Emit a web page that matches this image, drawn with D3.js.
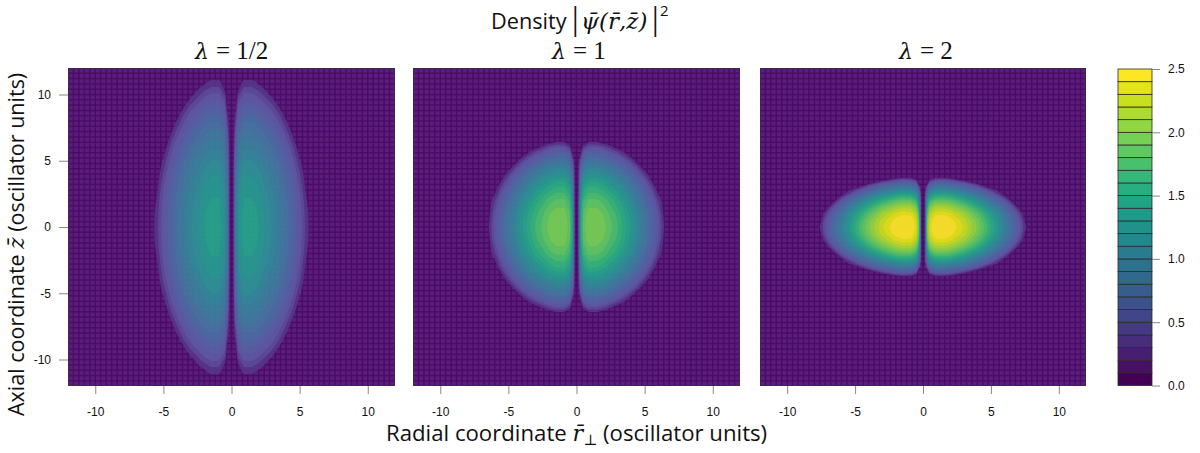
<!DOCTYPE html>
<html>
<head>
<meta charset="utf-8">
<script src="https://cdn.jsdelivr.net/npm/d3@7"></script>
<style>
  html, body { margin: 0; background: #fff; }
  svg { display: block; }
  .tick text { font-family: "Liberation Sans", sans-serif; font-size: 12px; fill: #111; }
  .tick line { stroke: #888; }
  .label { font-family: "Open Sans", sans-serif; fill: #111; }
  .math { font-family: "DejaVu Serif", serif; font-style: italic; fill: #111; }
  .upright { font-family: "Liberation Serif", serif; fill: #111; }
</style>
</head>
<body>
<svg width="1200" height="453"></svg>
<script>
// one quadrant of each panel, rows go up in z, columns out in r
const titles = ['= 1/2', '= 1', '= 2'];
const xTicks = [-10, -5, 0, 5, 10];
const yTicks = [-10, -5, 0, 5, 10];
const barTicks = [0, 0.5, 1, 1.5, 2, 2.5];

const radii1 = [0, 0.12, 0.3, 0.5, 0.9, 1.5, 2, 3, 3.5, 4, 4.5, 5, 5.5, 6, 6.5];
const heights1 = [0, 1, 2, 3, 4, 5, 6, 7, 8, 8.5, 9, 9.5, 10, 10.5, 11, 11.5, 12];
const density1 = [
    [0, 0, .87, 1.21, 1.36, 1.36, 1.30, 1.09, .95, .78, .59, .38, .15, 0, 0],
    [0, 0, .86, 1.20, 1.35, 1.35, 1.29, 1.08, .94, .77, .58, .37, .14, 0, 0],
    [0, 0, .83, 1.16, 1.31, 1.31, 1.26, 1.05, .90, .74, .55, .34, .11, 0, 0],
    [0, 0, .77, 1.11, 1.26, 1.26, 1.20, .99, .85, .69, .50, .29, .05, 0, 0],
    [0, 0, .70, 1.04, 1.19, 1.19, 1.13, .92, .78, .61, .43, .22, 0, 0, 0],
    [0, 0, .61, .95, 1.10, 1.10, 1.04, .83, .69, .52, .33, .12, 0, 0, 0],
    [0, 0, .49, .83, .98, .98, .92, .71, .57, .41, .22, .01, 0, 0, 0],
    [0, 0, .36, .70, .85, .85, .79, .58, .44, .27, .08, 0, 0, 0, 0],
    [0, 0, .20, .54, .69, .69, .63, .42, .28, .11, 0, 0, 0, 0, 0],
    [0, 0, .12, .46, .60, .61, .55, .34, .20, .03, 0, 0, 0, 0, 0],
    [0, 0, .03, .36, .51, .51, .46, .25, .10, 0, 0, 0, 0, 0, 0],
    [0, 0, 0, .27, .42, .42, .36, .15, .01, 0, 0, 0, 0, 0, 0],
    [0, 0, 0, .17, .32, .32, .26, .05, 0, 0, 0, 0, 0, 0, 0],
    [0, 0, 0, .06, .21, .21, .15, 0, 0, 0, 0, 0, 0, 0, 0],
    [0, 0, 0, 0, .13, .13, .05, 0, 0, 0, 0, 0, 0, 0, 0],
    [0, 0, 0, 0, 0, 0, 0, 0, 0, 0, 0, 0, 0, 0, 0],
    [0, 0, 0, 0, 0, 0, 0, 0, 0, 0, 0, 0, 0, 0, 0]
];

const radii2 = [0, 0.12, 0.3, 0.5, 0.9, 1.5, 2, 3, 3.5, 4, 4.5, 5, 5.5, 6, 6.5, 7];
const heights2 = [0, 1, 2, 3, 3.5, 4, 4.5, 5, 5.5, 6, 6.25, 6.5, 7];
const density2 = [
    [0, 0, 1.42, 1.76, 1.90, 1.90, 1.84, 1.62, 1.47, 1.29, 1.09, .87, .63, .36, .06, 0],
    [0, 0, 1.37, 1.71, 1.86, 1.86, 1.79, 1.57, 1.42, 1.25, 1.05, .83, .58, .31, .02, 0],
    [0, 0, 1.24, 1.58, 1.73, 1.72, 1.66, 1.44, 1.29, 1.12, .92, .70, .45, .18, 0, 0],
    [0, 0, 1.02, 1.36, 1.51, 1.51, 1.44, 1.22, 1.07, .90, .70, .48, .23, 0, 0, 0],
    [0, 0, .88, 1.22, 1.37, 1.36, 1.30, 1.08, .93, .75, .56, .33, .09, 0, 0, 0],
    [0, 0, .72, 1.05, 1.20, 1.20, 1.14, .91, .76, .59, .39, .17, 0, 0, 0, 0],
    [0, 0, .53, .87, 1.01, 1.01, .95, .73, .58, .40, .20, 0, 0, 0, 0, 0],
    [0, 0, .32, .66, .81, .80, .74, .52, .37, .20, 0, 0, 0, 0, 0, 0],
    [0, 0, .09, .43, .58, .57, .51, .29, .14, 0, 0, 0, 0, 0, 0, 0],
    [0, 0, 0, .18, .32, .32, .26, .04, 0, 0, 0, 0, 0, 0, 0, 0],
    [0, 0, 0, .04, .19, .19, .12, 0, 0, 0, 0, 0, 0, 0, 0, 0],
    [0, 0, 0, 0, .05, .05, 0, 0, 0, 0, 0, 0, 0, 0, 0, 0],
    [0, 0, 0, 0, 0, 0, 0, 0, 0, 0, 0, 0, 0, 0, 0, 0]
];

const radii3 = [0, 0.12, 0.3, 0.5, 0.9, 1.5, 2, 3, 4, 4.5, 5, 5.5, 6, 6.5, 7, 7.5, 8];
const heights3 = [0, 0.5, 1, 1.5, 2, 2.5, 3, 3.25, 3.5, 3.75, 4];
const density3 = [
    [0, 0, 1.84, 2.25, 2.44, 2.45, 2.40, 2.19, 1.89, 1.71, 1.50, 1.27, 1.02, .75, .45, .13, 0],
    [0, 0, 1.80, 2.21, 2.39, 2.41, 2.35, 2.15, 1.85, 1.66, 1.46, 1.23, .98, .70, .41, .09, 0],
    [0, 0, 1.67, 2.08, 2.27, 2.28, 2.22, 2.02, 1.72, 1.54, 1.33, 1.10, .85, .58, .28, 0, 0],
    [0, 0, 1.46, 1.87, 2.05, 2.06, 2.01, 1.81, 1.51, 1.32, 1.12, .89, .64, .36, .07, 0, 0],
    [0, 0, 1.16, 1.57, 1.75, 1.76, 1.71, 1.51, 1.21, 1.02, .82, .59, .34, .06, 0, 0, 0],
    [0, 0, .77, 1.18, 1.37, 1.38, 1.33, 1.12, .82, .64, .43, .20, 0, 0, 0, 0, 0],
    [0, 0, .30, .71, .90, .91, .86, .65, .35, .17, 0, 0, 0, 0, 0, 0, 0],
    [0, 0, .04, .45, .63, .64, .59, .39, .09, 0, 0, 0, 0, 0, 0, 0, 0],
    [0, 0, 0, .16, .34, .35, .30, .10, 0, 0, 0, 0, 0, 0, 0, 0, 0],
    [0, 0, 0, 0, .03, .04, 0, 0, 0, 0, 0, 0, 0, 0, 0, 0, 0],
    [0, 0, 0, 0, 0, 0, 0, 0, 0, 0, 0, 0, 0, 0, 0, 0, 0]
];

const panels = [
    {left: 68, right: 395, radii: radii1, heights: heights1, density: density1, title: titles[0], titleX: 195},
    {left: 413, right: 740, radii: radii2, heights: heights2, density: density2, title: titles[1], titleX: 552},
    {left: 760, right: 1086, radii: radii3, heights: heights3, density: density3, title: titles[2], titleX: 899}
];

let svg = d3.select('svg');
let top_ = 68, bottom = 386;
let levelCount = 25, levelStep = 0.1;
let levelColor = i => d3.interpolateViridis(i / (levelCount - 1));
// the image panels look a level brighter than the bar and washed out around the low levels
let fieldColor = i => {
    let lift = i == 1 ? 0.16 : i == 2 ? 0.24 : 0.28 * Math.max(0, 1 - (i - 3) / 12);
    return d3.interpolateRgb(levelColor(Math.min(i + 1, levelCount - 1)), '#a0a8f5')(lift);
};

let defs = svg.append('defs');
defs.append('filter').attr('id', 'soft').append('feGaussianBlur').attr('stdDeviation', 0.6);

let yScale = d3.scaleLinear().domain([-12, 12]).range([bottom, top_]);
let gridSteps = d3.range(0, 61).map(i => -12 + i * 0.4);

panels.forEach((p, n) => {
    let xScale = d3.scaleLinear().domain([-12, 12]).range([p.left, p.right]);

    // both axes are mirrored from the quadrant, the picture is symmetric
    let rs = [...p.radii.slice(1).map(d => -d).reverse(), ...p.radii];
    let zs = [...p.heights.slice(1).map(d => -d).reverse(), ...p.heights];
    let values = [];
    zs.forEach(z => {
        let row = p.density[p.heights.indexOf(Math.abs(z))];
        rs.forEach(r => values.push(row[p.radii.indexOf(Math.abs(r))]));
    });

    let bands = d3.contours()
        .size([rs.length, zs.length])
        .thresholds(d3.range(1, levelCount).map(i => i * levelStep))(values);

    // d3.contours works in grid cells, the grid is not even so go through piecewise scales
    let gridX = d3.scaleLinear().domain(rs.map((d, i) => i + 0.5)).range(rs.map(d => xScale(d)));
    let gridY = d3.scaleLinear().domain(zs.map((d, i) => i + 0.5)).range(zs.map(d => yScale(d)));
    let path = d3.geoPath(d3.geoTransform({
        point(x, y) { this.stream.point(gridX(x), gridY(y)); }
    }));

    defs.append('clipPath').attr('id', 'clip' + n)
        .append('rect')
        .attr('x', p.left).attr('y', top_)
        .attr('width', p.right - p.left).attr('height', bottom - top_);

    let plot = svg.append('g').attr('clip-path', `url(#clip${n})`);

    plot.append('rect')
        .attr('x', p.left).attr('y', top_)
        .attr('width', p.right - p.left).attr('height', bottom - top_)
        .attr('fill', '#5c1c7e');

    // the mesh of the fine image grid, it shows through the bands a little
    let mesh = plot.append('g').attr('stroke', '#470c60').attr('stroke-opacity', 0.85).attr('stroke-width', 1.5);
    mesh.selectAll('line.v')
        .data(gridSteps)
        .enter().append('line').attr('class', 'v')
        .attr('x1', d => xScale(d)).attr('x2', d => xScale(d))
        .attr('y1', top_).attr('y2', bottom);
    mesh.selectAll('line.h')
        .data(gridSteps)
        .enter().append('line').attr('class', 'h')
        .attr('y1', d => yScale(d)).attr('y2', d => yScale(d))
        .attr('x1', p.left).attr('x2', p.right);

    let field = plot.append('g').attr('filter', 'url(#soft)').attr('opacity', 0.94);
    field.selectAll('path.band')
        .data(bands)
        .enter().append('path')
        .attr('class', 'band')
        .attr('d', path)
        .attr('fill', (d, i) => fieldColor(i + 1));

    svg.append('rect')
        .attr('x', p.left + 0.5).attr('y', top_ + 0.5)
        .attr('width', p.right - p.left - 1).attr('height', bottom - top_ - 1)
        .attr('fill', 'none').attr('stroke', '#3a2a48');

    let xAxis = svg.append('g')
        .attr('transform', `translate(0,${bottom})`)
        .call(d3.axisBottom(xScale).tickValues(xTicks).tickSize(8).tickPadding(13).tickFormat(d => String(d)));
    xAxis.select('.domain').remove();

    if (n == 0) {
        let yAxis = svg.append('g')
            .attr('transform', `translate(${p.left},0)`)
            .call(d3.axisLeft(yScale).tickValues(yTicks).tickSize(9).tickPadding(8).tickFormat(d => String(d)));
        yAxis.select('.domain').remove();
    }

    let title = svg.append('text').attr('x', p.titleX).attr('y', 59);
    title.append('tspan').attr('class', 'math').attr('font-size', 22).text('λ');
    title.append('tspan').attr('class', 'upright').attr('font-size', 25).attr('dx', 7).text(p.title);
});

// colour bar
let barScale = d3.scaleLinear().domain([0, 2.5]).range([385.5, 69]);
let barLeft = 1118, barRight = 1152;
svg.append('g').selectAll('rect')
    .data(d3.range(levelCount))
    .enter().append('rect')
    .attr('x', barLeft).attr('width', barRight - barLeft)
    .attr('y', d => barScale((d + 1) * levelStep))
    .attr('height', d => barScale(d * levelStep) - barScale((d + 1) * levelStep))
    .attr('fill', d => levelColor(d))
    .attr('stroke', '#2a2a2a').attr('stroke-width', 0.8);

let barAxis = svg.append('g')
    .attr('transform', `translate(${barRight},0)`)
    .call(d3.axisRight(barScale).tickValues(barTicks).tickSize(8).tickPadding(8).tickFormat(d3.format('.1f')));
barAxis.select('.domain').remove();

// titles
let heading = svg.append('text').attr('y', 29).attr('fill', '#111');
heading.append('tspan').attr('class', 'label').attr('x', 491).attr('font-size', 21.7).text('Density');
heading.append('tspan').attr('class', 'upright').attr('x', 572).attr('y', 30).attr('font-size', 33).text('|');
heading.append('tspan').attr('class', 'math').attr('x', 581).attr('y', 29).attr('font-size', 23).text('ψ̄(r̄,z̄)');
heading.append('tspan').attr('class', 'upright').attr('x', 652).attr('y', 30).attr('font-size', 33).text('|');
heading.append('tspan').attr('class', 'label').attr('x', 660).attr('y', 16).attr('font-size', 15).text('2');

let xTitle = svg.append('text').attr('x', 386).attr('y', 441).attr('font-size', 22.2);
xTitle.append('tspan').attr('class', 'label').text('Radial coordinate ');
xTitle.append('tspan').attr('class', 'math').text('r̄');
xTitle.append('tspan').attr('class', 'math').attr('dy', 4).attr('font-size', 15).attr('font-style', 'normal').text('⊥');
xTitle.append('tspan').attr('class', 'label').attr('dy', -4).text(' (oscillator units)');

let yTitle = svg.append('text').attr('transform', 'translate(24,416) rotate(-90)').attr('font-size', 21.5);
yTitle.append('tspan').attr('class', 'label').text('Axial coordinate ');
yTitle.append('tspan').attr('class', 'math').text('z̄');
yTitle.append('tspan').attr('class', 'label').text(' (oscillator units)');
</script>
</body>
</html>
